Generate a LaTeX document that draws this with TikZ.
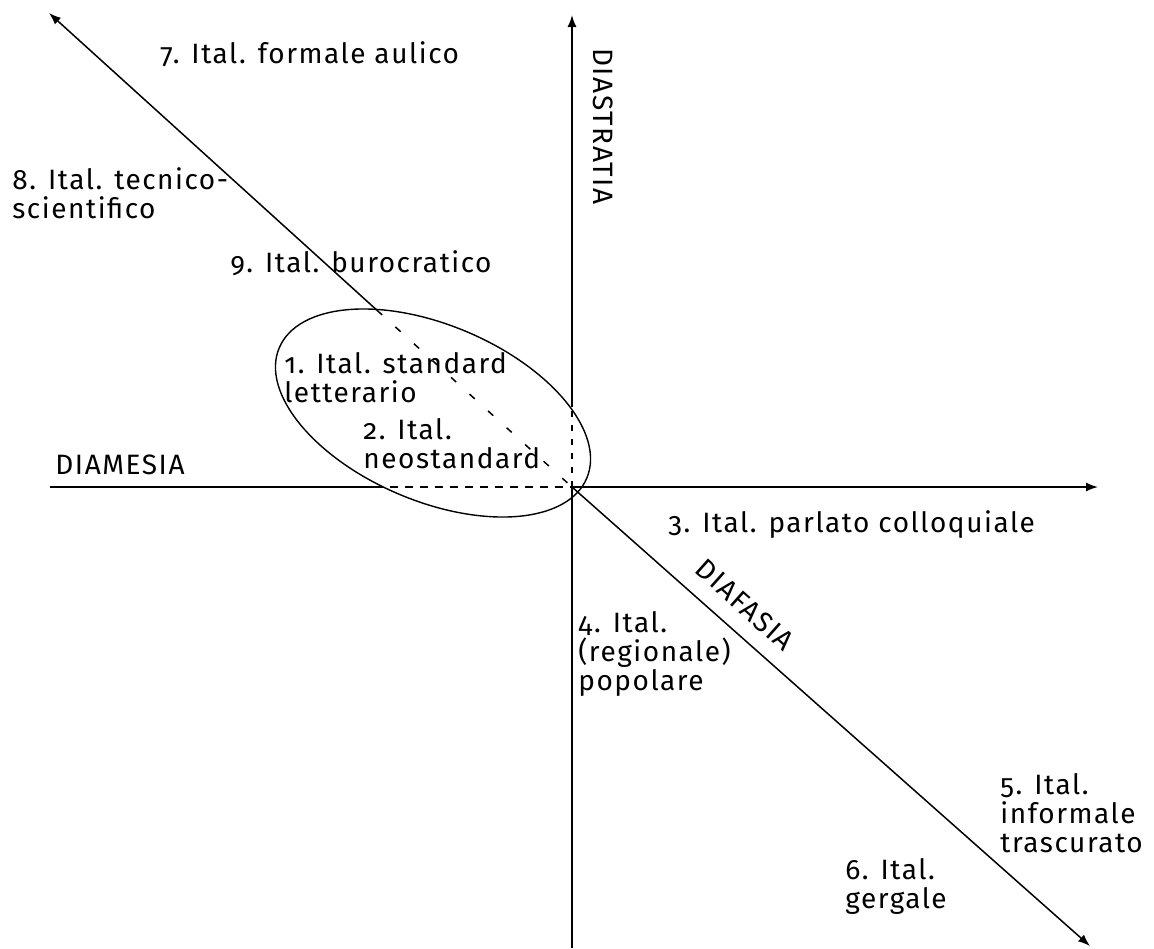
\documentclass[tikz,border=0pt]{standalone}
\usepackage{fontspec}
\setmainfont{Fira Sans}[Numbers=OldStyle, LetterSpace=5.5]
\usetikzlibrary{arrows.meta,calc}
\begin{document}
\begin{tikzpicture}[x=0.5pt,y=-0.5pt,
  axis/.style={line width=0.75pt},
  tip/.style={-{Latex[length=6pt,width=4.5pt]}},
  hdash/.style={dash pattern=on 4pt off 3.5pt},
  ddash/.style={dash pattern=on 3.5pt off 9pt},
  vdash/.style={dash pattern=on 3pt off 4pt},
  lbl/.style={font=\fontsize{14}{14.5}\selectfont, inner sep=0pt, anchor=base west, align=left},
  rlbl/.style={font=\fontsize{14}{14.5}\selectfont, inner sep=0pt},
]
\useasboundingbox (0,0) rectangle (1154,948);
% axis coordinates
\coordinate (O) at (572,487);
\coordinate (L) at (50,487);
\coordinate (R) at (1098,487);
\coordinate (T) at (572,15);
\coordinate (B) at (572,948);
\coordinate (TL) at (49,13);
\coordinate (BR) at (1090,946);
\coordinate (hb) at (375,487);
\coordinate (vb) at (572,407);
\coordinate (db) at ($(TL)!0.627!(O)$);
\coordinate (E) at (433,413);
% axes
\draw[axis] (L) -- (hb);
\draw[axis,hdash] (hb) -- (O);
\draw[axis,tip] (O) -- (R);
\draw[axis,tip] (vb) -- (T);
\draw[axis,vdash] (O) -- (vb);
\draw[axis] (O) -- (B);
\draw[axis,tip] (db) -- (TL);
\draw[axis,ddash] (db) -- (O);
\draw[axis,tip] (O) -- (BR);
% ellipse
\draw[line width=0.7pt, rotate around={-23:(E)}] (E) ellipse [x radius=83.5pt, y radius=44pt];
% labels (multi-line nodes anchored at the baseline of their last line)
\node[lbl] (l7) at (160,63) {7. Ital. formale aulico};
\node[lbl] (l8) at (12,218) {8. Ital. tecnico-\\scientifico};
\node[lbl] (l9) at (230,272) {9. Ital. burocratico};
\node[lbl] (l1) at (284,402) {1. Ital. standard\\letterario};
\node[lbl] (l2) at (363,468) {2. Ital.\\neostandard};
\node[lbl] (dm) at (55,474) {DIAMESIA};
\node[lbl] (l3) at (668,532) {3. Ital. parlato colloquiale};
\node[lbl] (l4) at (578,690) {4. Ital.\\(regionale)\\popolare};
\node[lbl] (l5) at (1000,852) {5. Ital.\\informale\\trascurato};
\node[lbl] (l6) at (845,908) {6. Ital.\\gergale};
\node[lbl, rotate=-90] (ds) at (593,48) {DIASTRATIA};
\node[rlbl, rotate=-41.7] (df) at (745,605) {DIAFASIA};
\end{tikzpicture}
\end{document}
